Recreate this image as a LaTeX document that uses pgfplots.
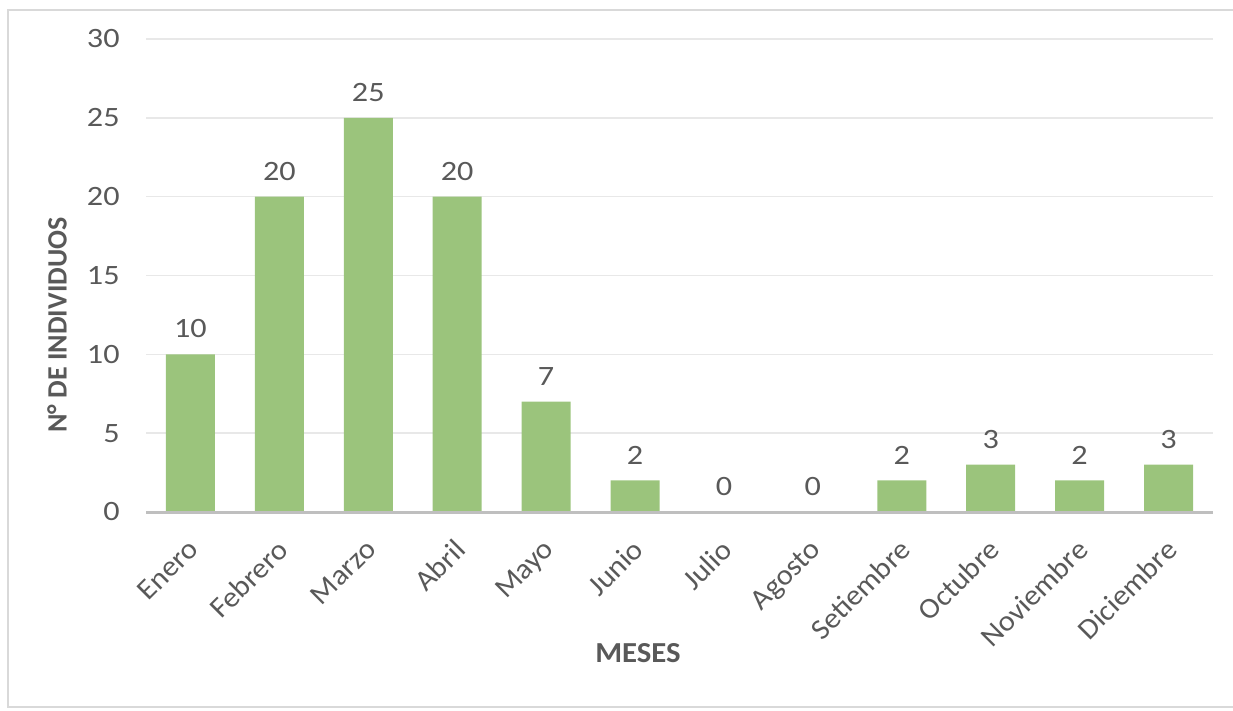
\documentclass[border=0pt]{standalone}
\usepackage{pgfplots}
\pgfplotsset{compat=1.18}
\usepackage{fontspec}
\setmainfont{Carlito}
\newfontfamily\numfont{Carlito}[FakeStretch=1.15]
\newfontfamily\catfont{Carlito}[FakeStretch=1.05]
\newfontfamily\ttlfont{Carlito}[FakeStretch=1.06]

\definecolor{barGreen}{RGB}{155,196,124}
\definecolor{txtGray}{RGB}{89,89,89}
\definecolor{gridGray}{RGB}{232,232,232}
\definecolor{axisGray}{RGB}{191,191,191}
\definecolor{frameGray}{RGB}{217,217,217}

\begin{document}
\begin{tikzpicture}
  % canvas and outer frame
  \useasboundingbox (0pt,0pt) rectangle (616.5pt,-355.5pt);
  \draw[frameGray, line width=1pt] (616.5pt,-5pt) -- (4pt,-5pt) -- (4pt,-353.5pt) -- (616.5pt,-353.5pt);

  \begin{axis}[
      at={(73pt,-256pt)}, anchor=south west,
      scale only axis,
      width=533.5pt, height=236.5pt,
      ybar, bar width=24.5pt,
      xmin=-0.5, xmax=11.5,
      ymin=0, ymax=30,
      ytick={0,5,...,30},
      xtick=data,
      xticklabels={Enero,Febrero,Marzo,Abril,Mayo,Junio,Julio,Agosto,Setiembre,Octubre,Noviembre,Diciembre},
      major tick length=0pt,
      tick style={draw=none},
      axis line style={draw=none},
      ymajorgrids,
      grid style={gridGray, line width=0.75pt},
      yticklabel style={font=\numfont\fontsize{14}{16}\selectfont, text=txtGray, anchor=east, inner sep=0pt, xshift=-13pt},
      /pgf/number format/assume math mode=true,
      xticklabel style={font=\catfont\fontsize{14.5}{16}\selectfont, text=txtGray, inner sep=0pt, xshift=-2pt, yshift=-12.5pt, rotate=45, anchor=north east},
      nodes near coords,
      every node near coord/.append style={font=\numfont\fontsize{14}{16}\selectfont, text=txtGray, anchor=south, inner sep=0pt, yshift=8pt},
      clip=false,
    ]
    \addplot[fill=barGreen, draw=none] coordinates {
      (0,10) (1,20) (2,25) (3,20) (4,7) (5,2)
      (6,0) (7,0) (8,2) (9,3) (10,2) (11,3)
    };
    \draw[axisGray, line width=1.5pt] (rel axis cs:0,0) -- (rel axis cs:1,0);
  \end{axis}

  % axis titles
  \node[rotate=90, text=txtGray, font=\fontsize{14}{17}\selectfont\bfseries] at (28.5pt,-162.5pt) {N° DE INDIVIDUOS};
  \node[text=txtGray, font=\ttlfont\fontsize{14.5}{17}\selectfont\bfseries] at (319pt,-326.5pt) {MESES};
\end{tikzpicture}
\end{document}
